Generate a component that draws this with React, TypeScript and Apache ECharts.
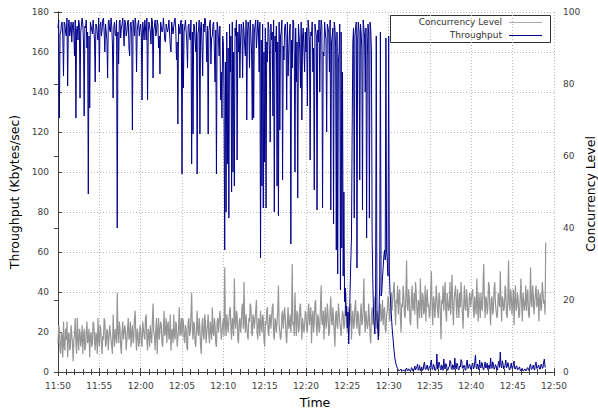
import React, { useEffect, useRef } from "react";
import * as echarts from "echarts";

// Samples every 5 seconds starting 11:50:00
const SAMPLE_STEP_MIN = 1 / 12;
const START_HOUR = 11;
const START_MIN = 50;

// Throughput (Kbytes/sec), one array per 5 minutes
const tp1150 = [172,176,127,169,170,174,175,167,148,175,174,170,168,177,143,172,176,168,171,175,165,173,175,169,158,176,127,171,173,166,176,174,137,170,170,177,174,165,128,173,172,176,162,170,89,168,132,175,175,171,169,176,176,166,145,174,173,169,166,177];
const tp1155 = [150,173,175,168,171,176,177,170,160,174,174,166,147,175,176,171,170,177,173,164,137,172,175,169,168,176,72,170,154,175,176,167,172,174,177,170,163,176,174,168,170,175,176,162,158,174,175,170,121,176,173,168,177,174,150,171,174,176,168,172];
const tp1200 = [174,169,136,175,171,166,176,172,166,177,136,170,175,173,170,164,177,175,147,171,173,176,168,170,176,174,162,168,149,175,175,170,171,177,177,166,165,174,174,170,172,176,176,163,160,175,175,169,169,176,177,171,156,165,124,174,172,169,175,176];
const tp1205 = [99,174,142,170,170,176,176,165,152,173,174,168,166,176,104,170,119,174,173,166,160,175,99,169,171,176,119,172,175,164,148,174,170,177,176,168,155,173,119,170,174,176,154,167,168,174,175,160,145,171,99,175,172,166,158,173,136,150,127,168];
const tp1210 = [165,140,61,155,80,170,104,162,77,174,150,168,90,175,100,160,93,172,168,176,106,170,160,174,147,166,174,171,147,175,170,163,158,176,126,169,175,172,152,176,168,160,126,174,127,170,173,176,162,168,176,171,150,175,57,166,93,174,82,160];
const tp1215 = [105,172,82,165,155,175,172,160,115,174,166,170,128,176,80,168,160,173,93,165,78,175,121,168,170,176,96,163,156,172,174,167,131,175,148,160,170,174,64,166,152,176,175,158,100,172,145,165,87,174,168,160,142,175,126,168,172,161,150,170];
const tp1220 = [160,172,133,176,172,165,106,170,168,175,150,162,91,174,174,168,81,171,165,176,140,169,176,173,82,160,158,175,170,166,120,174,174,170,150,176,81,165,168,172,74,175,172,163,61,170,49,155,160,174,41,170,62,150,48,90,35,42,28,33];
const tp1225 = [22,30,14,26,40,55,67,120,165,172,77,168,172,175,52,166,175,170,96,174,170,162,81,176,176,168,140,172,67,158,174,169,77,175,171,160,67,45,30,24,19,36,168,28,22,16,30,44,170,38,40,47,52,58,61,56,167,60,56,48];
const tp1230 = [168,50,40,34,28,22,18,14,10,7,5,3.5,2.5,1.8,1.2,0.5,0.8,1.1,1.5,0.3,0.5,0.9,1,0.4,0.4,1.3,2,0.7,0.6,1.6,1.2,0.4,0.3,2.2,1.8,0.6,0.5,1.4,3,1,1,2.6,4,0.8,1.5,3.2,0.6,1.5,2.5,0.9,1,3.8,5,1.5,1.2,2.4,3.5,1.1,0.8,2.8];
const tp1235 = [2.2,4.5,6,1.2,1.5,3.8,3,0.9,0.7,2.6,9,1.4,2,5,4,1.8,1,3.4,2.8,0.8,6.5,2.2,1.5,4.2,3.5,1,0.8,2.4,2.5,5.8,5,1.6,1.2,3.6,3,1.2,7,2.5,1.5,4.4,4,1.3,1,3,2.5,6.2,5.5,1.9,1.8,3.3,3.2,1,0.9,4.6,6,1.7,2,3.9,3.5,1.4];
const tp1240 = [1.2,3.6,4.5,1.5,2,5.2,8.5,2.4,1.5,3.9,3,1.1,6,2.6,2,4.8,4,1.3,1,3.1,5,2,2.5,4.4,1.2,3.2,3.5,1.6,7,2.9,1.8,5.1,4,1.4,2,3.7,3,1.2,1,4.1,5.5,2.3,10,3.4,2,5.6,4,1.5,1.5,3.3,6,2.1,2.5,4.7,3.5,1.3,1.2,2.9,4.5,1.8];
const tp1245 = [2,3.8,5.5,1.6,1.5,2.9,3,1,1,2.2,2.5,0.7,0.8,1.6,1.8,0.5,0.6,1.3,1.5,0.6,0.8,1.9,2.2,0.9,1,3.2,4,1.3,1.5,2.8,3.5,1.2,1,4.4,5,1.7,2,3.1,3.5,1.4,1.5,3.6,4,1.8,2,5.2,6.5,2.4,2.5];

// Concurrency level, one array per 5 minutes
const cc1150 = [8,13,12,6,5,11,10,4,14,7,6,12,9,14,4,10,11,6,7,13,13,8,3,9,10,15,8,5,15,9,6,12,11,7,9,13,5,10,12,6,7,11,14,8,9,12,4,10,11,7,8,14,13,9,6,11,10,5,15,9];
const cc1155 = [7,13,12,8,5,10,9,15,14,7,8,12,11,6,6,13,13,9,9,5,16,10,7,12,10,8,22,11,8,14,12,7,5,11,14,9,9,13,11,6,6,12,15,9,10,14,7,11,13,8,9,15,17,10,6,12,11,7,8,13];
const cc1200 = [12,8,7,14,14,10,9,15,16,9,6,12,11,7,13,10,8,14,19,11,10,6,12,15,5,11,15,9,9,14,13,8,7,12,17,10,11,15,8,13,14,9,10,16,6,11,12,8,16,10,9,14,13,7,7,12,18,10,11,15];
const cc1205 = [10,15,14,9,8,13,12,7,6,14,15,10,11,16,22,12,9,14,13,8,7,12,17,11,10,15,12,7,5,13,15,10,9,16,14,8,11,13,16,10,8,14,12,9,18,11,10,15,13,8,7,14,15,11,11,17,14,9,9,13];
const cc1210 = [15,10,29,13,10,16,16,11,11,17,18,12,9,15,14,10,26,14,12,17,16,9,8,14,15,11,13,18,19,12,25,14,11,16,16,10,9,15,14,19,18,11,10,16,15,12,12,17,20,11,9,15,14,10,17,13,11,16,15,9];
const cc1215 = [7,14,13,17,18,11,10,15,16,12,12,18,19,10,9,15,14,11,11,17,24,13,13,9,10,16,17,12,12,18,15,10,8,14,18,12,13,16,11,15,30,13,14,10,22,15,10,17,16,11,12,18,19,13,9,15,15,11,13,17];
const cc1220 = [16,12,11,17,19,13,13,18,8,15,17,11,14,19,20,13,10,16,15,11,12,18,24,14,13,17,9,15,18,12,14,19,16,10,11,17,21,14,13,18,15,11,7,16,17,13,12,19,19,14,14,10,10,17,16,12,13,18,22,14];
const cc1225 = [11,16,18,13,15,19,9,15,17,12,13,18,20,14,12,17,16,11,10,16,19,13,14,18,26,15,11,17,17,12,13,19,15,10,8,16,18,13,14,19,21,15,12,17,16,11,10,18,19,14,15,20,13,17,18,12,11,16,17,21];
const cc1230 = [20,15,14,21,22,17,17,23,25,18,13,20,19,24,16,21,23,15,11,19,18,24,21,16,15,22,31,18,17,23,20,14,13,21,24,17,18,22,16,25,22,17,12,20,19,15,26,19,15,22,21,16,17,24,14,20,23,18,19,15];
const cc1235 = [16,22,28,18,13,21,20,15,18,24,24,17,15,22,21,16,9,20,19,24,17,21,25,16,14,22,22,17,18,25,16,21,27,18,13,20,20,24,19,15,23,19,15,22,18,25,21,16,12,19,24,18,17,23,20,15,16,21,22,18];
const cc1240 = [18,22,23,17,15,21,21,16,26,19,14,22,19,15,22,18,17,24,30,20,15,21,20,16,18,25,24,17,13,20,21,16,17,23,25,19,19,15,16,22,22,18,28,20,14,21,20,17,18,24,23,16,15,20,31,19,17,23,21,16];
const cc1245 = [19,23,13,20,24,17,18,22,20,15,16,21,26,19,14,22,22,17,19,24,17,21,23,16,15,20,29,19,18,24,21,16,16,22,24,18,19,23,14,20,22,17,18,25,25,19,20,16,36];

const throughput = [
  ...tp1150, ...tp1155, ...tp1200, ...tp1205, ...tp1210, ...tp1215,
  ...tp1220, ...tp1225, ...tp1230, ...tp1235, ...tp1240, ...tp1245,
];
const concurrency = [
  ...cc1150, ...cc1155, ...cc1200, ...cc1205, ...cc1210, ...cc1215,
  ...cc1220, ...cc1225, ...cc1230, ...cc1235, ...cc1240, ...cc1245,
];

const FONT = "DejaVu Sans";
const TICK_COLOR = "#404040";
const GRID_COLOR = "#b8b8b8";
const BLUE = "#00008b";
const GRAY = "#969696";

function timeLabel(v: number): string {
  const total = START_HOUR * 60 + START_MIN + Math.round(v);
  const h = Math.floor(total / 60);
  const m = total % 60;
  return `${h}:${m < 10 ? "0" + m : m}`;
}

export default function App() {
  const ref = useRef<HTMLDivElement>(null);
  useEffect(() => {
    if (!ref.current) return;
    const chart = echarts.init(ref.current, null, { renderer: "svg" });
    const tpData = throughput.map((v, i) => [i * SAMPLE_STEP_MIN, v]);
    const ccData = concurrency.map((v, i) => [i * SAMPLE_STEP_MIN, v]);
    const axisLine = { show: true, lineStyle: { color: "#404040", width: 1 } };
    const tick = { show: true, inside: true, length: 4, lineStyle: { color: "#404040" } };
    const minor = { show: true, splitNumber: 5, length: 3, lineStyle: { color: "#404040" } };
    const nameStyle = { fontFamily: FONT, fontSize: 12.5, color: "#000" };
    chart.setOption({
      animation: false,
      backgroundColor: "#ffffff",
      grid: {
        left: 58,
        right: 44,
        top: 12,
        bottom: 40,
        containLabel: false,
        outerBoundsMode: "none",
      },
      xAxis: [
        {
          type: "value",
          min: 0,
          max: 60,
          interval: 5,
          position: "bottom",
          name: "Time",
          nameLocation: "middle",
          nameGap: 24,
          nameTextStyle: { ...nameStyle, padding: [0, 0, 0, 18] },
          axisLine,
          axisTick: tick,
          minorTick: minor,
          axisLabel: {
            fontFamily: FONT,
            fontSize: 9,
            color: TICK_COLOR,
            margin: 9,
            formatter: (v: number) => timeLabel(v),
          },
          splitLine: { show: true, lineStyle: { color: GRID_COLOR, type: [1, 2], width: 1 } },
        },
        {
          type: "value",
          min: 0,
          max: 60,
          interval: 5,
          position: "top",
          axisLine,
          axisTick: tick,
          minorTick: minor,
          axisLabel: { show: false },
          splitLine: { show: false },
        },
      ],
      yAxis: [
        {
          type: "value",
          min: 0,
          max: 180,
          interval: 20,
          position: "left",
          name: "Throughput (Kbytes/sec)",
          nameLocation: "middle",
          nameRotate: 90,
          nameGap: 36,
          nameTextStyle: nameStyle,
          axisLine,
          axisTick: tick,
          axisLabel: { fontFamily: FONT, fontSize: 9, color: TICK_COLOR, margin: 9 },
          splitLine: { show: true, lineStyle: { color: GRID_COLOR, type: [1, 2], width: 1 } },
        },
        {
          type: "value",
          min: 0,
          max: 100,
          interval: 20,
          position: "right",
          axisLine,
          axisTick: tick,
          axisLabel: { fontFamily: FONT, fontSize: 9, color: TICK_COLOR, margin: 9 },
          splitLine: { show: false },
        },
      ],
      series: [
        {
          name: "Concurrency Level",
          type: "line",
          xAxisIndex: 0,
          yAxisIndex: 1,
          data: ccData,
          showSymbol: false,
          silent: true,
          lineStyle: { color: GRAY, width: 1.2 },
          itemStyle: { color: GRAY },
          z: 2,
        },
        {
          name: "Throughput",
          type: "line",
          xAxisIndex: 0,
          yAxisIndex: 0,
          data: tpData,
          showSymbol: false,
          silent: true,
          lineStyle: { color: BLUE, width: 1 },
          itemStyle: { color: BLUE },
          z: 3,
        },
      ],
      graphic: [
        {
          type: "text",
          x: 590,
          y: 194,
          rotation: Math.PI / 2,
          z: 100,
          style: {
            text: "Concurrency Level",
            align: "center",
            verticalAlign: "middle",
            fontFamily: FONT,
            fontSize: 12.5,
            fill: "#000000",
          },
        },
        {
          type: "group",
          z: 100,
          children: [
            {
              type: "rect",
              shape: { x: 390.5, y: 15.5, width: 160, height: 27 },
              style: { fill: "#ffffff", stroke: "#333333", lineWidth: 1 },
            },
            {
              type: "text",
              x: 502,
              y: 22,
              style: {
                text: "Concurrency Level",
                align: "right",
                verticalAlign: "middle",
                fontFamily: FONT,
                fontSize: 9,
                fill: "#333333",
              },
            },
            {
              type: "line",
              shape: { x1: 509, y1: 22.5, x2: 542, y2: 22.5 },
              style: { stroke: "#a8a8a8", lineWidth: 1 },
            },
            {
              type: "text",
              x: 502,
              y: 35,
              style: {
                text: "Throughput",
                align: "right",
                verticalAlign: "middle",
                fontFamily: FONT,
                fontSize: 9,
                fill: "#333333",
              },
            },
            {
              type: "line",
              shape: { x1: 509, y1: 35.5, x2: 542, y2: 35.5 },
              style: { stroke: BLUE, lineWidth: 1 },
            },
          ],
        },
      ],
    });
    return () => chart.dispose();
  }, []);
  return (
    <div
      ref={ref}
      style={{ position: "fixed", left: 0, top: 0, width: 598, height: 412, background: "#fff" }}
    />
  );
}
